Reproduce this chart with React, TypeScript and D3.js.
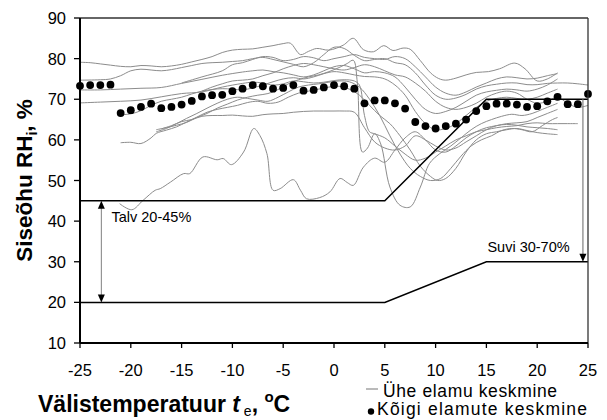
import React from "react";
import * as d3 from "d3";

// Outdoor temperature (°C) and mean indoor RH (%) of all dwellings
const meanTemps = [
  -25, -24, -23, -22, -21, -20, -19, -18, -17, -16, -15, -14, -13, -12, -11, -10, -9, -8, -7, -6, -5, -4, -3,
  -2, -1, 0, 1, 2, 3, 4, 5, 6, 7, 8, 9, 10, 11, 12, 13, 14, 15, 16, 17, 18, 19, 20, 21, 22, 23, 24, 25,
];
const meanRH = [
  73.3, 73.5, 73.5, 73.6, 66.6, 67.3, 68.1, 68.9, 67.8, 68.1, 68.7, 69.6, 70.7, 71.0, 71.1, 72.0, 72.6, 73.5,
  73.2, 72.6, 72.8, 73.5, 72.1, 72.3, 72.9, 73.5, 73.2, 72.6, 69.0, 69.7, 69.7, 69.0, 67.7, 64.4, 63.4, 62.8,
  63.4, 64.0, 65.0, 67.1, 68.3, 68.9, 68.9, 68.7, 68.1, 68.3, 69.5, 70.6, 68.8, 68.8, 71.3,
];

// Mean indoor RH of single dwellings: [outdoor temperature, RH]
const house01: [number, number][] = [
  [-25, 79.1], [-24, 79], [-23, 78.7], [-22, 78.4], [-21, 78.1], [-20, 78], [-19, 78.3], [-18, 78.2], [-17, 78],
  [-16, 78.2], [-15, 78.6], [-14, 79.2], [-13, 79.8], [-12, 80.5], [-11, 81.5], [-10, 82.1], [-9, 82.3], [-8, 82.4],
  [-7, 82.8], [-6, 83.2], [-5, 83.7], [-4.3, 83.8], [-3.3, 81], [-2.5, 81.8], [-1.7, 82.5], [-0.5, 82.1], [0.9, 83.3],
  [1.9, 85], [2.9, 82.2], [3.9, 81.7], [4.9, 83.2], [5.8, 82], [6.8, 82.6], [7.5, 82.3], [8.5, 79.5], [9.5, 76.5],
  [10.3, 75.1], [11, 74.7], [12, 75.2], [13, 76], [14, 76.6], [15.2, 76.8], [16.3, 77.5], [17.8, 78.9], [18.8, 77.5],
  [20, 74.5], [21, 75], [22, 76.5],
];
const house02: [number, number][] = [
  [-25, 74.7], [-23, 74.8], [-22, 75], [-21, 75.8], [-20, 77], [-19, 77.4], [-18, 77.2], [-17, 77], [-16, 77.3],
  [-15, 77.8], [-14, 78.3], [-13, 78.8], [-12, 79], [-11, 79.1], [-10, 79.3], [-9, 79.5], [-8, 80], [-7, 80.3],
  [-6, 79.8], [-5, 79.2], [-4, 78.6], [-3, 78], [-2, 79], [-1, 81], [0, 82.8], [1, 82.5], [2, 80.8], [3, 79.5],
  [4, 79.8], [5, 80], [6, 79], [7, 78.5], [8, 76.5], [9, 73.5], [10, 71], [11, 70], [12, 70.3], [13, 71.2],
  [14, 72.5], [15, 73.3], [16, 73.7], [17, 74], [18, 74], [19, 73.6], [20, 73.6], [21, 73.9], [22, 74], [23, 74],
  [24, 73.8], [25, 73.5],
];
const house03: [number, number][] = [
  [-25, 72.3], [-23, 72.3], [-21, 72.5], [-19, 72.7], [-17, 72.9], [-15, 73.9], [-13, 74.9], [-11, 75.9], [-9, 76.7],
  [-8, 77], [-7, 77.2], [-6, 76.8], [-5, 76.5], [-4, 76], [-3, 75.5], [-2, 76], [-1, 77], [0, 78], [1, 78.3],
  [2, 77.5], [3, 76.5], [4, 76.8], [5, 76.5], [6, 75.5], [7, 73], [8, 70], [9, 67.5], [10, 66.5], [11, 67], [12, 68],
  [13, 69.5], [14, 71], [15, 71.8], [16, 72.2], [17, 72.5], [18, 72.3], [19, 72], [20, 72.5], [21, 73.5], [22, 75],
];
const house04: [number, number][] = [
  [-25, 69.1], [-23, 69.3], [-21, 69.5], [-19, 69.8], [-17, 70.6], [-15, 71.4], [-13, 71.8], [-11, 73], [-9, 73.9],
  [-8, 74.2], [-7, 74], [-6, 73.5], [-5, 73.8], [-4, 74.5], [-3, 74.3], [-2, 74], [-1, 74.2], [0, 74.6], [1, 74.8],
  [2, 74.5], [2.5, 73.5], [3, 66], [3.5, 62], [4, 61.5], [5, 60.5], [6, 58.5], [7, 56.5], [8, 55], [9, 55.5],
  [10, 57], [11, 58.5], [12, 60], [13, 61], [14, 62], [15, 62.5], [16, 63], [17, 63.3], [18, 63.5], [19, 64],
  [20, 64.2], [21, 64], [22, 64], [23, 64], [24, 64],
];
const house05: [number, number][] = [
  [-21, 66.2], [-20, 66.4], [-19, 67.2], [-18, 68.5], [-17, 69.5], [-16, 70], [-15, 70.5], [-14, 71.3], [-13, 72],
  [-12, 72.4], [-11, 72.6], [-10, 72.5], [-9, 72.3], [-8, 72.8], [-7, 73.5], [-6, 74.3], [-5, 75], [-4, 75.3],
  [-3, 75], [-2, 75.5], [-1, 76.3], [0, 76.8], [1, 76.5], [2, 76], [3, 75.6], [4, 75.5], [5, 75], [6, 73.5],
  [7, 71], [8, 67], [9, 64], [10, 62.5], [11, 62.8], [12, 64], [13, 66], [14, 68], [15, 69.5], [16, 70.2],
  [17, 70.5], [18, 70.2], [19, 70], [20, 70.5], [21, 71.5], [22, 72.5],
];
const house06: [number, number][] = [
  [-21, 59.3], [-20, 59.4], [-19, 59.1], [-18, 60.5], [-17.5, 61.6], [-16.5, 62.4], [-15.5, 63.2], [-14.5, 64.4],
  [-13.5, 65.6], [-12.5, 66.8], [-11.5, 67.5], [-10.5, 68], [-9.5, 68.5], [-8.5, 69.2], [-7.5, 69.5], [-6.5, 69],
  [-5.5, 69.3], [-4.5, 70.5], [-3.5, 71.5], [-2.5, 72], [-1.5, 72.5], [-0.5, 73], [0.5, 73.2], [1.5, 72.5],
  [2.5, 71], [3.5, 68.5], [4.5, 66], [5.5, 64], [6.5, 61], [7.5, 57.5], [8.5, 53.5], [9.5, 51], [10.2, 50],
  [11, 50.5], [12, 53], [13, 57], [14, 60], [15, 61.5], [16, 62], [17, 62.5], [18, 62.8], [19, 62.3], [20, 61.8],
  [21, 61.5], [22, 61.3],
];
const house07: [number, number][] = [
  [-17.5, 62.5], [-16.5, 63], [-15.5, 63.6], [-14.5, 64.3], [-13.5, 65.5], [-12.5, 66.5], [-11.5, 67.8],
  [-10.5, 68.8], [-9.5, 69.8], [-8.5, 70.5], [-7.5, 71], [-6.5, 71.4], [-5.5, 72.4], [-4.5, 73.8], [-3.5, 74.8],
  [-2.5, 75.5], [-1.5, 76], [-0.5, 76.8], [0.5, 77.8], [1.3, 78.8], [1.9, 79.6], [2.3, 74], [2.8, 57], [3.3, 58],
  [4, 61.5], [4.6, 59], [5.5, 48.4], [6.5, 43.9], [7.5, 43.5], [8.5, 48.4], [9.4, 54.2], [10.4, 56.6],
  [11.5, 58.5], [12.5, 60.5], [13.5, 62.5], [14.5, 64], [15.5, 65], [16.5, 65.8], [17.5, 66.3], [18.5, 66],
  [19.5, 66.5], [20.5, 67.5], [21.5, 68.5], [22, 69],
];
const house08: [number, number][] = [
  [-17, 62.7], [-16, 63.5], [-15, 64.5], [-14, 65], [-13, 65.8], [-12, 66], [-11, 66], [-10, 66.1], [-9, 65.9],
  [-8, 65.8], [-7, 66.2], [-6, 66.4], [-5, 66.5], [-4, 66.8], [-3, 67], [-2, 67.1], [-1, 67.1], [0, 67.1],
  [1, 67.1], [2, 66.8], [3, 63], [4, 59.5], [5, 58], [6, 57.5], [7, 58.5], [8, 61], [9, 60], [10, 58.5],
  [11, 57.5], [12, 58], [13, 59.5], [14, 61], [15, 62.5], [16, 63.5], [17, 63.8], [18, 63.6], [19, 63.2],
  [20, 63], [21, 62.8], [22, 62.5],
];
const house09: [number, number][] = [
  [-21.1, 44.3], [-19.9, 42.8], [-18.8, 45.1], [-17.6, 47.6], [-17.1, 48], [-16.1, 49.6], [-14.8, 51.7],
  [-14.2, 51.7], [-12.9, 55.8], [-11.5, 55.1], [-10.9, 55.4], [-10.1, 53.9], [-8.9, 57], [-7.9, 62.8],
  [-7.3, 61.1], [-6.6, 56.6], [-6, 47.6], [-5.3, 48], [-4, 50.2], [-3.3, 47.6], [-2.7, 45.5], [-1.4, 45.8],
  [-0.4, 47.2], [0.6, 50.5], [1.3, 49.5], [1.9, 48.8], [2.9, 53.3], [4, 55.5], [5, 54.5], [6, 57.5], [7, 60.5],
  [8, 62], [9, 60], [10, 57.5], [11, 57], [12, 58.5], [13, 60.5], [14, 62], [15, 63], [16, 63.5], [17, 64],
  [18, 64.2], [19, 64.5], [20, 65.5], [21, 66.5], [22, 67.5],
];
const house10: [number, number][] = [
  [-17.5, 62], [-16.5, 62.8], [-15.5, 64], [-14.5, 65.3], [-13.5, 66.5], [-12.5, 67.8], [-11.5, 69], [-10.5, 70],
  [-9.5, 70.5], [-8.5, 70.2], [-7.5, 69.8], [-6.5, 69.5], [-5.5, 70.5], [-4.5, 71.8], [-3.5, 73], [-2.5, 73.5],
  [-1.5, 73.8], [-0.5, 74.2], [0.5, 74.5], [1.5, 74.3], [2.5, 73], [3.5, 70], [4.5, 66], [5.5, 61], [6.5, 56.5],
  [7.5, 53], [8.5, 51], [9.5, 50], [10.5, 50.5], [11.5, 53], [12.5, 56], [13.5, 58.5], [14.5, 60], [15.5, 61],
  [16.5, 62.3], [17.5, 62.8], [18.5, 62.5], [19.5, 62], [20.5, 63.5], [21.5, 65], [22, 65.5],
];
const house11: [number, number][] = [
  [-13, 72], [-12, 73], [-11, 73.8], [-10, 74.5], [-9, 74.7], [-8, 75], [-7, 75.8], [-6, 76.5], [-5, 77.5],
  [-4, 78.3], [-3, 78.8], [-2, 78.5], [-1, 78], [0, 77.5], [1, 77.2], [2, 77.8], [3, 78.5], [4, 78], [5, 77],
  [6, 76], [7, 75.5], [8, 74], [9, 72], [10, 69.5], [11, 68], [12, 67.5], [13, 68], [14, 69], [15, 70.5],
  [16, 71.5], [17, 72], [18, 71.5], [19, 70], [20, 69], [21, 69.5], [22, 70.5], [23, 69], [24, 68], [25, 68.5],
];
const house12: [number, number][] = [
  [-15, 74], [-13, 75.5], [-11, 77], [-10, 78.5], [-9, 79], [-8, 79.8], [-7, 80.5], [-6, 80.3], [-5, 79.5],
  [-4, 79.8], [-3, 80.5], [-2, 80.2], [-1, 79.5], [0, 80], [1, 80.5], [2, 81], [3, 80.3], [4, 80], [5, 79.8],
  [6, 80.5], [7, 80], [8, 78], [9, 75.5], [10, 73], [11, 71.5], [12, 71], [13, 71.8], [14, 73], [15, 74],
  [16, 75], [17, 75.5], [18, 75.3], [19, 75], [20, 75.2], [21, 75.8], [22, 76.3],
];
const houses = [house01, house02, house03, house04, house05, house06, house07, house08, house09, house10, house11, house12];

// Recommended indoor RH band: winter 20-45 %, summer 30-70 %
const limitTemps = [-25, 5, 15, 25];
const upperLimit = [45, 45, 70, 70];
const lowerLimit = [20, 20, 30, 30];

const winterArrowT = -22.9;
const summerArrowT = 24.5;

const xTicks = [-25, -20, -15, -10, -5, 0, 5, 10, 15, 20, 25];
const yTicks = [10, 20, 30, 40, 50, 60, 70, 80, 90];

const W = 607;
const H = 420;
const plot = { left: 80, right: 588, top: 18, bottom: 343 };
const FONT = "'Liberation Sans', Arial, sans-serif";

export default function App() {
  const x = d3.scaleLinear().domain([-25, 25]).range([plot.left, plot.right]);
  const y = d3.scaleLinear().domain([10, 90]).range([plot.bottom, plot.top]);

  const houseLine = d3
    .line<[number, number]>()
    .x((d) => x(d[0]))
    .y((d) => y(d[1]))
    .curve(d3.curveCatmullRom.alpha(0.5));

  const limitLine = (vals: number[]) =>
    d3
      .line<number>()
      .x((_, i) => x(limitTemps[i]))
      .y((d) => y(d))(vals) as string;

  const arrowDown = (cx: number, tipY: number) =>
    `M${cx - 3.5},${tipY - 8} L${cx + 3.5},${tipY - 8} L${cx},${tipY} Z`;
  const arrowUp = (cx: number, tipY: number) =>
    `M${cx - 3.5},${tipY + 8} L${cx + 3.5},${tipY + 8} L${cx},${tipY} Z`;

  const wx = x(winterArrowT);
  const sx = x(summerArrowT);

  return (
    <svg
      width={W}
      height={H}
      style={{ position: "absolute", left: 0, top: 0, background: "#fff" }}
      fontFamily={FONT}
    >
      <rect width={W} height={H} fill="#fff" />

      {/* single dwellings */}
      <g fill="none" stroke="#8c8c8c" strokeWidth={1}>
        {houses.map((h, i) => (
          <path key={i} d={houseLine(h) as string} />
        ))}
      </g>

      {/* recommended band limits */}
      <g fill="none" stroke="#000" strokeWidth={1.5}>
        <path d={limitLine(upperLimit)} />
        <path d={limitLine(lowerLimit)} />
      </g>

      {/* range arrows */}
      <line x1={wx} x2={wx} y1={y(45) + 6} y2={y(20) - 6} stroke="#808080" strokeWidth={1} />
      <path d={arrowUp(wx, y(45))} fill="#000" />
      <path d={arrowDown(wx, y(20))} fill="#000" />
      <line x1={sx} x2={sx} y1={y(70)} y2={y(30) - 6} stroke="#808080" strokeWidth={1.2} />
      <path d={arrowDown(sx, y(30))} fill="#000" />

      <text x={x(-21.9)} y={y(39.8)} fontSize={14.5} fill="#000">
        Talv 20-45%
      </text>
      <text x={x(15.1)} y={y(32.4)} fontSize={14.5} fill="#000">
        Suvi 30-70%
      </text>

      {/* all-dwellings mean */}
      <g fill="#000">
        {meanTemps.map((t, i) => (
          <circle key={t} cx={x(t)} cy={y(meanRH[i])} r={3.9} />
        ))}
      </g>

      {/* frame */}
      <line x1={plot.left} x2={plot.right} y1={plot.top} y2={plot.top} stroke="#333" strokeWidth={1.3} />
      <line x1={plot.right} x2={plot.right} y1={plot.top} y2={plot.bottom} stroke="#333" strokeWidth={1.3} />

      {/* y axis */}
      <line x1={plot.left} x2={plot.left} y1={plot.top} y2={plot.bottom} stroke="#000" strokeWidth={2} />
      {yTicks.map((v) => (
        <g key={v}>
          <line x1={plot.left - 6} x2={plot.left} y1={y(v)} y2={y(v)} stroke="#000" strokeWidth={1.3} />
          <text x={66} y={y(v) + 6} textAnchor="end" fontSize={16.5} fill="#000">
            {v}
          </text>
        </g>
      ))}

      {/* x axis */}
      <line x1={plot.left} x2={plot.right} y1={plot.bottom} y2={plot.bottom} stroke="#000" strokeWidth={2} />
      {xTicks.map((t) => (
        <g key={t}>
          <line x1={x(t)} x2={x(t)} y1={plot.bottom} y2={plot.bottom + 5} stroke="#000" strokeWidth={1.3} />
          <text x={x(t)} y={375.5} textAnchor="middle" fontSize={16.5} fill="#000">
            {t}
          </text>
        </g>
      ))}

      {/* axis titles */}
      <text
        transform={`translate(32,${(plot.top + plot.bottom) / 2}) rotate(-90)`}
        textAnchor="middle"
        fontSize={22.5}
        fontWeight="bold"
        fill="#000"
      >
        Siseõhu RH<tspan fontSize={14} dy={5}>i</tspan>
        <tspan dy={-5}>, %</tspan>
      </text>
      <text x={38} y={412} fontSize={23} fontWeight="bold" fill="#000">
        Välistemperatuur <tspan fontStyle="italic">t</tspan>
        <tspan fontSize={14} fontWeight="normal" dy={4}>
          {" "}e
        </tspan>
        <tspan dy={-4}>, </tspan>
        <tspan fontSize={15} dy={-10}>o</tspan>
        <tspan dy={10}>C</tspan>
      </text>

      {/* legend */}
      <line x1={366} x2={378} y1={389} y2={389} stroke="#8c8c8c" strokeWidth={1.2} />
      <text x={383} y={396.5} fontSize={17.5} fill="#000" textLength={174}>
        Ühe elamu keskmine
      </text>
      <circle cx={371} cy={411.5} r={3.2} fill="#000" />
      <text x={377} y={415} fontSize={17.5} fill="#000" textLength={210}>
        Kõigi elamute keskmine
      </text>
    </svg>
  );
}
